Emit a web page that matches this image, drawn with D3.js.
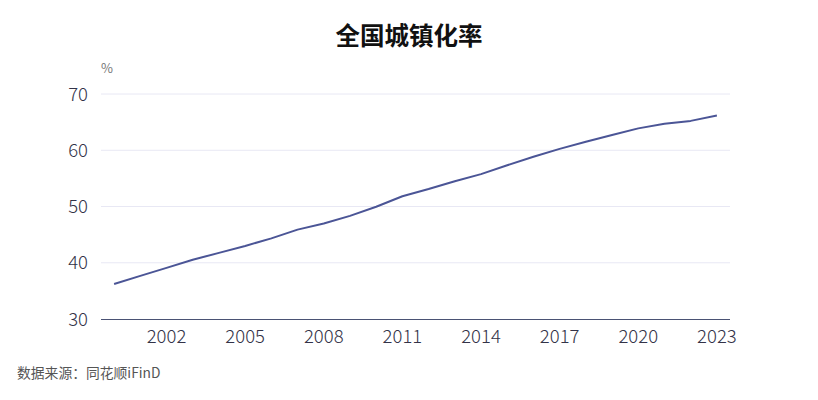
<!DOCTYPE html>
<html><head><meta charset="utf-8">
<script src="https://cdn.jsdelivr.net/npm/d3@7"></script>
<style>body{margin:0;background:#fff;}svg{display:block;font-family:"Microsoft YaHei","Noto Sans CJK SC",sans-serif;}</style>
</head><body><svg id="c" width="818" height="400"></svg>
<script>
const years = [2000,2001,2002,2003,2004,2005,2006,2007,2008,2009,2010,2011,2012,2013,2014,2015,2016,2017,2018,2019,2020,2021,2022,2023];
const urbanRate = [36.22,37.66,39.09,40.53,41.76,42.99,44.34,45.89,46.99,48.34,49.95,51.83,53.10,54.49,55.75,57.33,58.84,60.24,61.50,62.71,63.89,64.72,65.22,66.16];
const yTicks = [30,40,50,60,70];
const xTickLabels = [2002,2005,2008,2011,2014,2017,2020,2023];
const title = "全国城镇化率";
const unit = "%";
const source = "数据来源：同花顺iFinD";

const svg = d3.select("#c");
const L = 101, R = 730, T = 94, B = 319;
const x = d3.scaleBand().domain(years).range([L, R]);
const y = d3.scaleLinear().domain([30,70]).range([B, T]);
const cx = d => x(d) + x.bandwidth()/2;

svg.append("text").attr("x",409).attr("y",45).attr("text-anchor","middle")
  .attr("font-size",24.5).attr("font-weight","bold").attr("fill","#111").text(title);
svg.append("text").attr("x",107).attr("y",73).attr("text-anchor","middle")
  .attr("font-size",13).attr("fill","#777").text(unit);

svg.append("g").selectAll("line").data(yTicks.filter(v=>v!==30)).join("line")
  .attr("x1",L).attr("x2",R).attr("y1",d=>y(d)).attr("y2",d=>y(d))
  .attr("stroke","#e8e8f4").attr("stroke-width",1);

svg.append("g").selectAll("text").data(yTicks).join("text")
  .attr("x",88).attr("y",d=>y(d)).attr("dy","0.36em").attr("text-anchor","end")
  .attr("font-size",18.5).attr("font-weight",300).attr("fill","#333348").text(d=>d);

svg.append("line").attr("x1",L).attr("x2",R).attr("y1",B+0.5).attr("y2",B+0.5)
  .attr("stroke","#4a5274").attr("stroke-width",1);

svg.append("g").selectAll("text").data(xTickLabels).join("text")
  .attr("x",d=>cx(d)).attr("y",343).attr("text-anchor","middle")
  .attr("font-size",18.5).attr("font-weight",300).attr("fill","#333348").text(d=>d);

const line = d3.line().x((d,i)=>cx(years[i])).y(d=>y(d));
svg.append("path").datum(urbanRate).attr("d",line).attr("fill","none")
  .attr("stroke","#4b5596").attr("stroke-width",2).attr("stroke-linejoin","round");

svg.append("text").attr("x",17).attr("y",378).attr("font-size",13.8).attr("fill","#555").text(source);
</script></body></html>
